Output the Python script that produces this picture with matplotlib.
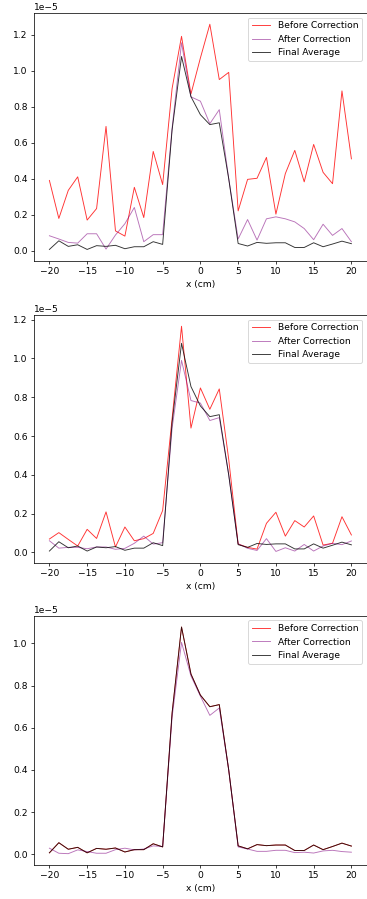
import matplotlib
matplotlib.use("Agg")
import matplotlib.pyplot as plt

x_cm = [-20.0, -18.75, -17.5, -16.25, -15.0, -13.75, -12.5, -11.25, -10.0, -8.75,
        -7.5, -6.25, -5.0, -3.75, -2.5, -1.25, 0.0, 1.25, 2.5, 3.75, 5.0, 6.25,
        7.5, 8.75, 10.0, 11.25, 12.5, 13.75, 15.0, 16.25, 17.5, 18.75, 20.0]

final_avg = [0.007, 0.055, 0.024, 0.033, 0.007, 0.028, 0.024, 0.030, 0.011, 0.022,
             0.022, 0.050, 0.035, 0.67, 1.078, 0.855, 0.755, 0.700, 0.710, 0.40, 0.040, 0.026,
             0.046, 0.041, 0.044, 0.044, 0.018, 0.018, 0.044, 0.022, 0.037, 0.053, 0.039]

before_1 = [0.39, 0.179, 0.335, 0.41, 0.17, 0.234, 0.69, 0.11, 0.081, 0.352,
            0.184, 0.551, 0.367, 0.90, 1.19, 0.87, 1.07, 1.257, 0.95, 0.99, 0.221, 0.396,
            0.402, 0.518, 0.203, 0.428, 0.557, 0.382, 0.59, 0.435, 0.372, 0.887, 0.51]
after_1 = [0.083, 0.065, 0.046, 0.042, 0.094, 0.094, 0.009, 0.087, 0.15, 0.24,
           0.05, 0.089, 0.089, 0.68, 1.154, 0.854, 0.83, 0.705, 0.783, 0.40, 0.065, 0.173,
           0.059, 0.177, 0.188, 0.177, 0.16, 0.123, 0.061, 0.147, 0.085, 0.123, 0.05]

before_2 = [0.069, 0.102, 0.067, 0.033, 0.119, 0.072, 0.209, 0.028, 0.131, 0.06,
            0.071, 0.098, 0.216, 0.69, 1.166, 0.641, 0.848, 0.738, 0.843, 0.48, 0.043, 0.026,
            0.017, 0.15, 0.207, 0.084, 0.164, 0.131, 0.188, 0.038, 0.047, 0.184, 0.09]
after_2 = [0.06, 0.022, 0.026, 0.026, 0.019, 0.028, 0.028, 0.016, 0.021, 0.047,
           0.084, 0.043, 0.05, 0.64, 0.99, 0.783, 0.77, 0.68, 0.695, 0.40, 0.045, 0.021,
           0.01, 0.071, 0.005, 0.024, 0.007, 0.041, 0.007, 0.033, 0.047, 0.04, 0.059]

before_3 = list(final_avg)
after_3 = [0.029, 0.005, 0.003, 0.021, 0.013, 0.005, 0.005, 0.022, 0.029, 0.021,
           0.025, 0.04, 0.037, 0.65, 1.005, 0.846, 0.75, 0.659, 0.694, 0.40, 0.035, 0.025,
           0.014, 0.014, 0.019, 0.019, 0.008, 0.01, 0.006, 0.016, 0.019, 0.013, 0.01]

panels = [(before_1, after_1), (before_2, after_2), (before_3, after_3)]
scale = 1e-5

DPI = 66
fig = plt.figure(figsize=(367 / DPI, 899 / DPI), dpi=DPI)
H = 899.0
W = 367.0
rects = [(13.0, 260.7), (315.0, 562.7), (615.7, 865.0)]
left = 34.3 / W
width = (366.5 - 34.3) / W

for (top, bottom), (before, after) in zip(rects, panels):
    ax = fig.add_axes([left, 1 - bottom / H, width, (bottom - top) / H])
    ax.plot(x_cm, [v * scale for v in before], color="red", alpha=0.8, lw=1.0,
            label="Before Correction")
    ax.plot(x_cm, [v * scale for v in after], color="purple", alpha=0.55, lw=1.0,
            label="After Correction")
    ax.plot(x_cm, [v * scale for v in final_avg], color="black", alpha=0.8, lw=1.0,
            label="Final Average")
    ax.set_xlabel("x (cm)")
    ax.legend(loc="upper right")

fig.savefig("out.png", dpi=DPI)
